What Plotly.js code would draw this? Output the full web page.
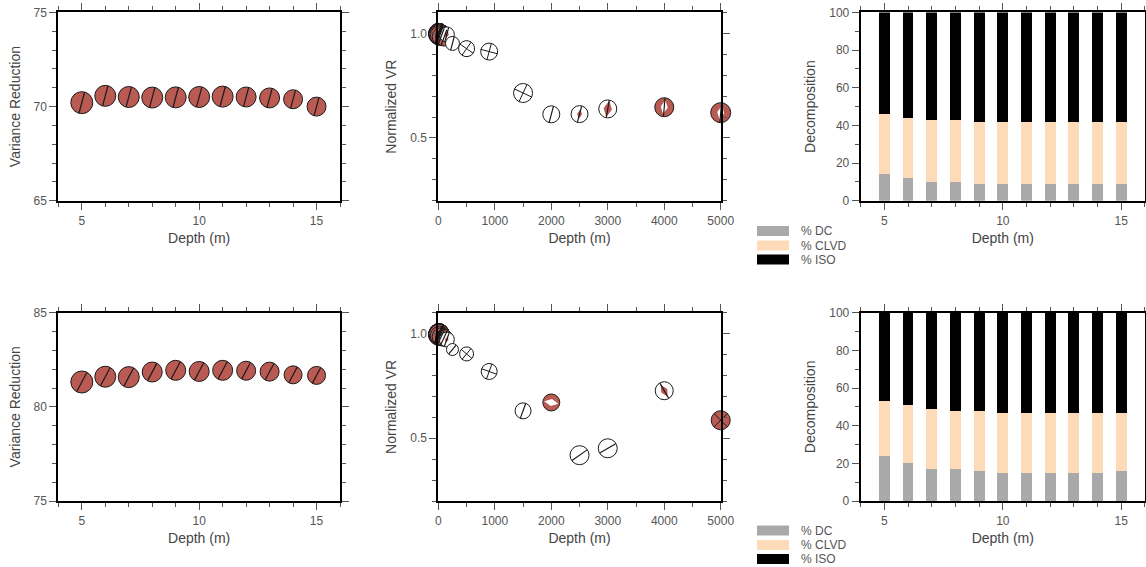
<!DOCTYPE html>
<html>
<head>
<meta charset="utf-8">
<script src="https://cdn.plot.ly/plotly-3.0.1.min.js"></script>
<style>html,body{margin:0;padding:0;background:#fff;}#chart{width:1146px;height:567px;}</style>
</head>
<body>
<div id="chart"></div>
<script>
// ---------------- DATA ----------------
const depthShallow = [5, 6, 7, 8, 9, 10, 11, 12, 13, 14, 15];
const vrTop    = [70.21, 70.57, 70.51, 70.48, 70.49, 70.51, 70.53, 70.51, 70.46, 70.39, 70.00];
const vrBottom = [81.32, 81.60, 81.58, 81.85, 81.94, 81.88, 81.94, 81.92, 81.87, 81.70, 81.67];

const depthAll = [5, 6, 7, 8, 9, 10, 11, 12, 13, 14, 15, 25, 50, 100, 150, 250, 500, 900, 1500, 2000, 2500, 3000, 4000, 5000];
const nvrTop    = [0.995, 1.0, 0.999, 0.999, 0.999, 0.999, 0.999, 0.999, 0.998, 0.997, 0.992,
                   0.99, 0.985, 0.98, 0.995, 0.952, 0.927, 0.913, 0.715, 0.613, 0.614, 0.639, 0.647, 0.621];
const nvrBottom = [0.992, 0.996, 0.996, 0.999, 1.0, 0.999, 1.0, 1.0, 0.999, 0.997, 0.997,
                   0.99, 0.985, 0.98, 0.972, 0.924, 0.903, 0.819, 0.631, 0.671, 0.419, 0.452, 0.727, 0.586];

const dcTop     = [14, 12, 10, 10, 9, 9, 9, 9, 9, 9, 9];
const clvdTop   = [32, 32, 33, 33, 33, 33, 33, 33, 33, 33, 33];
const isoTop    = [54, 56, 57, 57, 58, 58, 58, 58, 58, 58, 58];
const dcBottom  = [24, 20, 17, 17, 16, 15, 15, 15, 15, 15, 16];
const clvdBottom= [29, 31, 32, 31, 32, 32, 32, 32, 32, 32, 31];
const isoBottom = [47, 49, 51, 52, 52, 53, 53, 53, 53, 53, 53];

const legendNames = ['% DC', '% CLVD', '% ISO'];

// ---------------- STYLE ----------------
const RED = '#b95b53', WHITE = '#ffffff', EDGE = '#1a1a1a';
const C_DC = '#a9a9a9', C_CLVD = '#fddbb8', C_ISO = '#000000';
const legendColors = [C_DC, C_CLVD, C_ISO];
const FONT = 'Liberation Sans, Arial, Helvetica, sans-serif';
const LINE_K = 1.4; // plotly line symbols are 1.4x their nominal size

const sizeLeftTop    = [22, 21, 21, 21, 21, 21, 21, 20, 20, 19, 19];
const sizeLeftBottom = [22, 21, 21, 20, 20, 20, 20, 19, 19, 18, 18];

const R = RED, W = WHITE;
const midTopFill  = [R,R,R,R,R,R,R,R,R,R,R, R,R,R, W,W,W,W,W,W,W,W, R,R];
const midTopSym   = ['circle','circle','circle','circle','circle','circle','circle','circle','circle','circle','circle',
                     'circle','circle','circle','circle','circle','circle-cross','circle-cross','circle-cross','circle','circle','circle','circle','circle'];
const midTopSymAng= [0,0,0,0,0,0,0,0,0,0,0, 0,0,0,0,0, 35,15,25, 0,0,0,0,0];
const midTopSize  = [20,20,20,20,20,20,20,20,20,20,20, 19,18,17,15,14,16,17,19,17,17,18,19,20];
const midTopLensC = [R,R,R,R,R,R,R,R,R,R,R, R,R,R, R,R,R,R,R,R, R,R, W,W];
const midTopLensS = [0,0,0,0,0,0,0,0,0,0,0, 0,0,0, 6,0,0,0,0,0, 7,12, 10,10];
const midTopLine  = [1,1,1,1,1,1,1,1,1,1,1, 1,1,1,1,1, 0,0,0, 1,1,1,1,1];
const midTopLineA = [20,20,20,20,20,20,20,20,20,20,20, 20,20,20,15,15, 0,0,0, 15,15,10,5,5];

const midBotFill  = [R,R,R,R,R,R,R,R,R,R,R, R,R,R, W,W,W,W,W, R, W,W,W, R];
const midBotSym   = ['circle','circle','circle','circle','circle','circle','circle','circle','circle','circle','circle',
                     'circle','circle','circle','circle','circle','circle-cross','circle-cross','circle','circle','circle','circle','circle','circle-cross'];
const midBotSymAng= [0,0,0,0,0,0,0,0,0,0,0, 0,0,0,0,0, 40,20, 0,0,0,0,0, 45];
const midBotSize  = [20,20,20,20,20,20,20,20,20,20,20, 19,18,17,15,12,14,16,16,17,19,19,18,19];
const midBotLensC = [R,R,R,R,R,R,R,R,R,R,R, R,R,R, R,R,R,R,R, W, R,R,R, R];
const midBotLensS = [0,0,0,0,0,0,0,0,0,0,0, 0,0,0, 5,0,0,0,0, 10, 0,0,10, 0];
const midBotLensA = [0,0,0,0,0,0,0,0,0,0,0, 0,0,0, 20,0,0,0,0, 100, 0,0,150, 0];
const midBotLine  = [1,1,1,1,1,1,1,1,1,1,1, 1,1,1,1,1, 0,0,1, 0,1,1,1, 0];
const midBotLineA = [25,25,25,25,25,25,25,25,25,25,25, 25,25,25,20,40, 0,0,20, 0,55,60,150, 0];

// ---------------- TRACES ----------------
const traces = [];
const lineSize = (sizes, on) => sizes.map((s, i) => (on && !on[i]) ? 0 : (s - 0.5) / LINE_K);

function leftBalls(xa, ya, yv, sizes, lineAngle) {
  traces.push({
    type: 'scatter', mode: 'markers', x: depthShallow, y: yv, xaxis: xa, yaxis: ya,
    cliponaxis: false, showlegend: false, hoverinfo: 'x+y',
    marker: {symbol: 'circle', size: sizes, color: RED, opacity: 1, line: {color: EDGE, width: 1}}
  });
  traces.push({
    type: 'scatter', mode: 'markers', x: depthShallow, y: yv, xaxis: xa, yaxis: ya,
    cliponaxis: false, showlegend: false, hoverinfo: 'skip',
    marker: {symbol: 'line-ns', size: lineSize(sizes), angle: lineAngle, opacity: 1,
             line: {color: EDGE, width: 1.2}}
  });
}
leftBalls('x', 'y', vrTop, sizeLeftTop, 15);
leftBalls('x4', 'y4', vrBottom, sizeLeftBottom, 28);

function midBalls(xa, ya, yv, fill, sym, symAng, size, lensC, lensS, lensA, lineOn, lineA) {
  traces.push({
    type: 'scatter', mode: 'markers', x: depthAll, y: yv, xaxis: xa, yaxis: ya,
    cliponaxis: false, showlegend: false, hoverinfo: 'x+y',
    marker: {symbol: sym, size: size, color: fill, angle: symAng, opacity: 1, line: {color: EDGE, width: 1}}
  });
  traces.push({
    type: 'scatter', mode: 'markers', x: depthAll, y: yv, xaxis: xa, yaxis: ya,
    cliponaxis: false, showlegend: false, hoverinfo: 'skip',
    marker: {symbol: 'diamond-tall', size: lensS, color: lensC, angle: lensA, opacity: 1, line: {width: 0}}
  });
  traces.push({
    type: 'scatter', mode: 'markers', x: depthAll, y: yv, xaxis: xa, yaxis: ya,
    cliponaxis: false, showlegend: false, hoverinfo: 'skip',
    marker: {symbol: 'line-ns', size: lineSize(size, lineOn), angle: lineA, opacity: 1,
             line: {color: EDGE, width: 1.2}}
  });
}
midBalls('x2', 'y2', nvrTop, midTopFill, midTopSym, midTopSymAng, midTopSize,
         midTopLensC, midTopLensS, 10, midTopLine, midTopLineA);
midBalls('x5', 'y5', nvrBottom, midBotFill, midBotSym, midBotSymAng, midBotSize,
         midBotLensC, midBotLensS, midBotLensA, midBotLine, midBotLineA);

function bars(xa, ya, dc, clvd, iso) {
  [dc, clvd, iso].forEach((v, i) => {
    traces.push({
      type: 'bar', x: depthShallow, y: v, xaxis: xa, yaxis: ya, width: 0.46,
      marker: {color: legendColors[i], line: {width: 0}}, showlegend: false, name: legendNames[i]
    });
  });
}
bars('x3', 'y3', dcTop, clvdTop, isoTop);
bars('x6', 'y6', dcBottom, clvdBottom, isoBottom);

// ---------------- LAYOUT ----------------
const TICKC = '#555';
function axis(o) {
  const base = {
    showline: true, linewidth: 2, linecolor: '#000', mirror: 'allticks',
    ticks: 'outside', ticklen: 7, tickwidth: 1, tickcolor: TICKC,
    showgrid: false, zeroline: false, fixedrange: true,
    tickfont: {family: FONT, size: 12, color: '#555'},
  };
  const out = Object.assign(base, o);
  out.minor = Object.assign({ticks: 'outside', ticklen: 4, tickwidth: 1, tickcolor: TICKC, showgrid: false}, o.minor || {});
  out.title = {text: o.titleText, font: {family: FONT, size: 14, color: '#444'}, standoff: o.standoff};
  delete out.titleText; delete out.standoff;
  return out;
}
const colX = [[0.0509, 0.2967], [0.3825, 0.6289], [0.751, 0.9991]];
const rowY = [[0.646, 0.978], [0.1164, 0.4485]];

const layout = {
  width: 1146, height: 567, margin: {l: 0, r: 0, t: 0, b: 0},
  paper_bgcolor: '#fff', plot_bgcolor: '#fff',
  font: {family: FONT, color: '#444'},
  barmode: 'stack', bargap: 0,
  showlegend: false,
  shapes: [], annotations: []
};
const rows = [['', '2', '3'], ['4', '5', '6']];
rows.forEach((r, ri) => {
  r.forEach((id, ci) => {
    const xk = 'xaxis' + id, yk = 'yaxis' + id;
    let xo, yo;
    if (ci === 0) {
      xo = {range: [4, 16], tick0: 0, dtick: 5, minor: {dtick: 1}};
      yo = ri === 0 ? {range: [65, 75], tick0: 0, dtick: 5, minor: {dtick: 1}}
                    : {range: [75, 85], tick0: 0, dtick: 5, minor: {dtick: 1}};
      yo.titleText = 'Variance Reduction'; yo.standoff = 10;
    } else if (ci === 1) {
      xo = {range: [0, 5000], tick0: 0, dtick: 1000, minor: {dtick: 500}};
      yo = {range: [0.2, 1.1], tick0: 0, dtick: 0.5, tickformat: '.1f', minor: {dtick: 0.1}};
      yo.titleText = 'Normalized VR'; yo.standoff = 10;
    } else {
      xo = {range: [4, 16], tick0: 0, dtick: 5, minor: {dtick: 1}};
      yo = {range: [0, 100], tick0: 0, dtick: 20, minor: {dtick: 10}};
      yo.titleText = 'Decomposition'; yo.standoff = 10;
    }
    xo.titleText = 'Depth (m)'; xo.standoff = 6; xo.ticklabelstandoff = 1;
    xo.domain = colX[ci]; xo.anchor = 'y' + id;
    yo.domain = rowY[ri]; yo.anchor = 'x' + id;
    layout[xk] = axis(xo);
    layout[yk] = axis(yo);
  });
});

// manual legends (swatch 32x10 px, like the original GMT legend)
function legendBlock(rowCentersPx) {
  const W0 = 1146, H0 = 567;
  rowCentersPx.forEach((cy, i) => {
    layout.shapes.push({
      type: 'rect', xref: 'paper', yref: 'paper', layer: 'above',
      x0: 757 / W0, x1: 789 / W0, y0: 1 - (cy - 5) / H0, y1: 1 - (cy + 5) / H0,
      fillcolor: legendColors[i], line: {width: 0}
    });
    layout.annotations.push({
      xref: 'paper', yref: 'paper', x: 799 / W0, y: 1 - cy / H0,
      xanchor: 'left', yanchor: 'middle', showarrow: false, text: legendNames[i],
      font: {family: FONT, size: 12, color: '#555'}
    });
  });
}
legendBlock([231, 245.5, 259.5]);
legendBlock([530.5, 545, 559]);

Plotly.newPlot('chart', traces, layout, {displayModeBar: false, staticPlot: true});
</script>
</body>
</html>
